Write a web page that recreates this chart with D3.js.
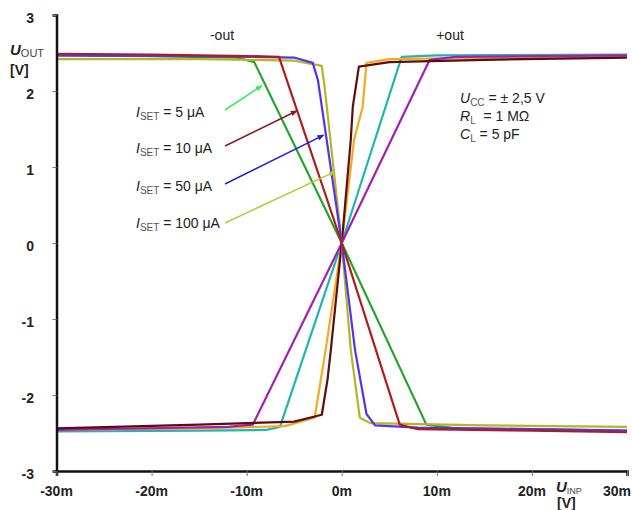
<!DOCTYPE html>
<html><head><meta charset="utf-8">
<script src="https://cdn.jsdelivr.net/npm/d3@7/dist/d3.min.js"></script>
<style>body{margin:0;background:#fff}svg{display:block;font-family:"Liberation Sans",Arial,sans-serif}</style>
</head><body><svg id="c" width="632" height="510"></svg>
<script>
// x in mV, y in V
const xTicks = [-30,-20,-10,0,10,20,30];
const xTickLabels = ["-30m","-20m","-10m","0m","10m","20m","30m"];
const yTicks = [3,2,1,0,-1,-2,-3];

const green5   = [[-30,2.47],[-20,2.46],[-11,2.44],[-9.2,2.38],[0,0],[8.9,-2.39],[12,-2.44],[20,-2.45],[30,-2.47]];
const red10    = [[-30,2.49],[-20,2.48],[-10,2.46],[-6.6,2.45],[0,0],[6.1,-2.39],[8,-2.45],[20,-2.47],[30,-2.49]];
const blue50   = [[-30,2.47],[-15,2.46],[-5,2.44],[-3.05,2.37],[-2.5,2.14],[0,0],[1.4,-1.41],[2.6,-2.25],[3.5,-2.4],[8,-2.43],[20,-2.45],[30,-2.47]];
const olive100 = [[-30,2.42],[-15,2.42],[-5,2.4],[-2.1,2.33],[-1.8,2.05],[0,0],[0.95,-1.41],[1.9,-2.3],[3,-2.37],[15,-2.4],[30,-2.42]];
const maroon100= [[-30,-2.44],[-15,-2.39],[-5,-2.35],[-2.1,-2.26],[-1.5,-1.8],[-1.15,-1.41],[0,0],[0.95,1.36],[1.16,1.79],[1.8,2.32],[5,2.38],[15,2.41],[30,2.44]];
const orange50 = [[-30,-2.46],[-15,-2.44],[-6,-2.41],[-2.85,-2.3],[-1.7,-1.41],[0,0],[1.3,1.36],[2.2,1.79],[2.6,2.37],[5,2.42],[30,2.46]];
const teal10   = [[-30,-2.48],[-15,-2.47],[-8,-2.46],[-6.5,-2.42],[0,0],[6.3,2.45],[10,2.47],[30,2.48]];
const magenta5 = [[-30,-2.46],[-12,-2.42],[-9.35,-2.39],[0,0],[9.25,2.41],[12,2.45],[30,2.47]];

const series = [
  {name:"teal10", data:teal10, color:"#1fb5b0"},
  {name:"orange50", data:orange50, color:"#f7a823"},
  {name:"magenta5", data:magenta5, color:"#a31fb3"},
  {name:"maroon100", data:maroon100, color:"#5c0d0d"},
  {name:"green5", data:green5, color:"#22a52a"},
  {name:"olive100", data:olive100, color:"#b5b526"},
  {name:"blue50", data:blue50, color:"#5533ee"},
  {name:"red10", data:red10, color:"#b01c1c"}
];

const isetLabels = ["5 μA","10 μA","50 μA","100 μA"];
// arrow target points in data coords
const arrowTargets = [[-8.4,2.07],[-4.7,1.74],[-1.9,1.42],[-0.7,0.94]];
const arrowColors = ["#33ee55","#8b1c1c","#2222dd","#b0cc33"];

const svg = d3.select("#c");
const x = d3.scaleLinear().domain([-30,30]).range([56.5,627]);
const y = d3.scaleLinear().domain([-3,3]).range([471,15]);

// curves
const line = d3.line().x(d=>x(d[0])).y(d=>y(d[1]));
svg.append("g").selectAll("path").data(series).join("path")
  .attr("d",d=>line(d.data)).attr("fill","none").attr("stroke",d=>d.color)
  .attr("stroke-width",2.2).attr("stroke-linejoin","round");

// axes
const yAxis = d3.axisLeft(y).tickValues(yTicks).tickSize(4).tickFormat("");
const gy = svg.append("g").attr("transform",`translate(${x(-30)},0)`).call(yAxis);
gy.select(".domain").attr("stroke","#111").attr("stroke-width",2.5);
gy.selectAll(".tick line").attr("stroke","#777");
const xAxis = d3.axisBottom(x).tickValues(xTicks).tickSize(5).tickFormat("");
const gx = svg.append("g").attr("transform",`translate(0,${y(-3)})`).call(xAxis);
gx.select(".domain").attr("stroke","#111").attr("stroke-width",2.5);
gx.selectAll(".tick line").attr("stroke","#777");

svg.append("g").selectAll("text").data(yTicks).join("text")
  .attr("x",34).attr("y",d=>y(d)+8).attr("text-anchor","end")
  .attr("font-size",14).attr("font-weight","bold").attr("fill","#222").text(d=>d);
svg.append("g").selectAll("text").data(xTicks).join("text")
  .attr("x",(d,i)=>i===xTicks.length-1 ? 631 : x(d)).attr("y",496)
  .attr("text-anchor",(d,i)=>i===xTicks.length-1 ? "end" : "middle")
  .attr("font-size",14).attr("font-weight","bold").attr("fill","#222")
  .text((d,i)=>xTickLabels[i]);

// axis titles
const t1 = svg.append("text").attr("x",10).attr("y",55).attr("fill","#222");
t1.append("tspan").attr("font-size",15).attr("font-weight","bold").attr("font-style","italic").text("U");
t1.append("tspan").attr("font-size",11).attr("fill","#444").attr("dy",2).text("OUT");
svg.append("text").attr("x",10).attr("y",75).attr("font-size",14).attr("font-weight","bold").attr("fill","#222").text("[V]");
const t2 = svg.append("text").attr("x",556).attr("y",492).attr("fill","#222");
t2.append("tspan").attr("font-size",15).attr("font-weight","bold").attr("font-style","italic").text("U");
t2.append("tspan").attr("font-size",9).attr("fill","#444").attr("dy",2).text("INP");
svg.append("text").attr("x",557).attr("y",508).attr("font-size",14).attr("font-weight","bold").attr("fill","#222").text("[V]");

svg.append("text").attr("x",222).attr("y",40).attr("text-anchor","middle").attr("font-size",14).attr("fill","#222").text("-out");
svg.append("text").attr("x",450).attr("y",40).attr("text-anchor","middle").attr("font-size",14).attr("fill","#222").text("+out");

// conditions
const cond = [["U","CC"," = ± 2,5 V"],["R","L","  = 1 MΩ"],["C","L"," = 5 pF"]];
cond.forEach((c,i)=>{
  const t = svg.append("text").attr("x",460).attr("y",103+i*18).attr("font-size",14).attr("fill","#222");
  t.append("tspan").attr("font-style","italic").text(c[0]);
  t.append("tspan").attr("font-size",10).attr("fill","#555").attr("dy",3).text(c[1]);
  t.append("tspan").attr("dy",-3).attr("xml:space","preserve").text(c[2]);
});

// arrow markers
const defs = svg.append("defs");
arrowColors.forEach((c,i)=>{
  defs.append("marker").attr("id","ah"+i).attr("viewBox","0 0 10 10").attr("refX",9).attr("refY",5)
    .attr("markerWidth",7).attr("markerHeight",7).attr("orient","auto").attr("markerUnits","userSpaceOnUse")
    .append("path").attr("d","M0,1L10,5L0,9Z").attr("fill",c);
});
const labelY = [117,153,191,228];
isetLabels.forEach((lab,i)=>{
  const t = svg.append("text").attr("x",136).attr("y",labelY[i]).attr("font-size",14).attr("fill","#222");
  t.append("tspan").attr("font-style","italic").text("I");
  t.append("tspan").attr("font-size",10).attr("fill","#555").attr("dy",3).text("SET");
  t.append("tspan").attr("dy",-3).text(" = "+lab);
  svg.append("line").attr("x1",225).attr("y1",labelY[i]-7+ (i==3?2:0))
    .attr("x2",x(arrowTargets[i][0])).attr("y2",y(arrowTargets[i][1]))
    .attr("stroke",arrowColors[i]).attr("stroke-width",1.5).attr("marker-end",`url(#ah${i})`);
});
</script></body></html>
